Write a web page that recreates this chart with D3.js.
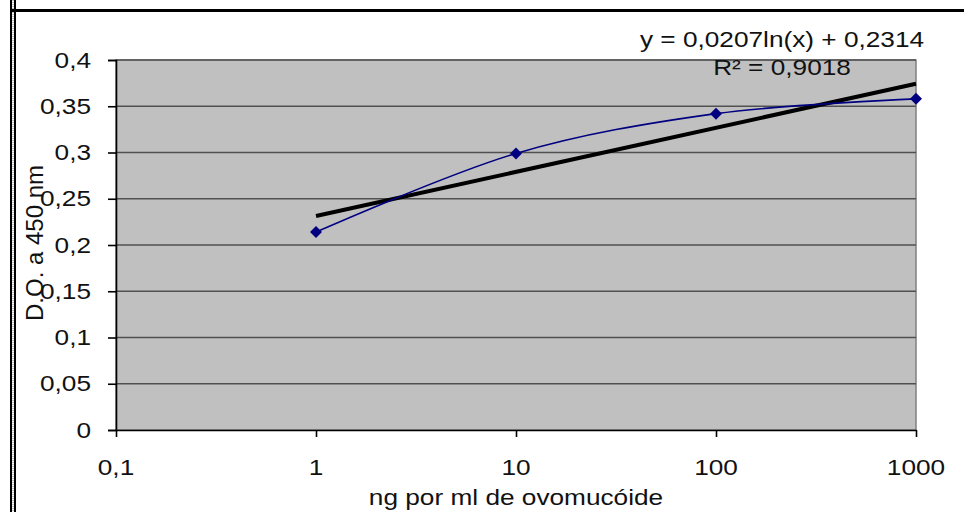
<!DOCTYPE html>
<html>
<head>
<meta charset="utf-8">
<script src="https://cdn.jsdelivr.net/npm/d3@7/dist/d3.min.js"></script>
<style>
  html, body { margin: 0; padding: 0; background: #fff; }
  svg { display: block; }
  text { font-family: "Liberation Sans", Arial, sans-serif; fill: #111; }
</style>
</head>
<body>
<svg id="chart" width="964" height="512"></svg>
<script>
// Concentration (ng/ml) vs optical density at 450 nm
const concentrations = [1, 10, 100, 1000];
const opticalDensity = [0.214, 0.299, 0.342, 0.358];

// Logarithmic trend line: y = a ln(x) + b
const trendA = 0.0207;
const trendB = 0.2314;
const trendRange = [1, 1000];
const equationLabel = "y = 0,0207ln(x) + 0,2314";
const r2Label = "R\u00b2 = 0,9018";

const xTicks = [0.1, 1, 10, 100, 1000];
const xTickLabels = ["0,1", "1", "10", "100", "1000"];
const yTicks = [0, 0.05, 0.1, 0.15, 0.2, 0.25, 0.3, 0.35, 0.4];
const yTickLabels = ["0", "0,05", "0,1", "0,15", "0,2", "0,25", "0,3", "0,35", "0,4"];

const xTitle = "ng por ml de ovomuc\u00f3ide";
const yTitle = "D.O. a 450 nm";

const svg = d3.select("#chart");
const plot = { left: 116, right: 916, top: 60, bottom: 430 };
const stretch = 1.22;   // horizontal text stretch
const fontSize = 21.5;

const x = d3.scaleLog().domain([0.1, 1000]).range([plot.left, plot.right]);
const y = d3.scaleLinear().domain([0, 0.4]).range([plot.bottom, plot.top]);

// Outer frame: double rule on the left, heavy rule on top
svg.append("rect").attr("x", 10).attr("y", 0).attr("width", 2).attr("height", 512).attr("fill", "#000");
svg.append("line").attr("x1", 13).attr("x2", 13).attr("y1", 0).attr("y2", 512)
  .attr("stroke", "#888").attr("stroke-width", 1).attr("stroke-dasharray", "1,1");
svg.append("rect").attr("x", 14).attr("y", 0).attr("width", 2).attr("height", 512).attr("fill", "#000");
svg.append("rect").attr("x", 10).attr("y", 9).attr("width", 954).attr("height", 3).attr("fill", "#000");

// Plot area
svg.append("rect")
  .attr("x", plot.left).attr("y", plot.top)
  .attr("width", plot.right - plot.left).attr("height", plot.bottom - plot.top)
  .attr("fill", "#c0c0c0").attr("stroke", "#808080").attr("stroke-width", 1.5);

// Horizontal gridlines
svg.append("g").selectAll("line").data(yTicks.filter(d => d > 0)).join("line")
  .attr("x1", plot.left).attr("x2", plot.right)
  .attr("y1", d => y(d)).attr("y2", d => y(d))
  .attr("stroke", "#505050").attr("stroke-width", 1.6);

// Axes (tick marks only; labels drawn separately)
svg.append("g").attr("transform", `translate(${plot.left},0)`)
  .call(d3.axisLeft(y).tickValues(yTicks).tickSize(8).tickFormat(""))
  .call(g => g.selectAll("line,path").attr("stroke", "#000").attr("stroke-width", 1.6));
svg.append("g").attr("transform", `translate(0,${plot.bottom})`)
  .call(d3.axisBottom(x).tickValues(xTicks).tickSize(7).tickSizeOuter(0).tickFormat(""))
  .call(g => g.selectAll("line,path").attr("stroke", "#000").attr("stroke-width", 1.6));

// Y tick labels
svg.append("g").selectAll("text").data(yTicks).join("text")
  .attr("transform", d => `translate(91,${y(d)}) scale(${stretch},1)`)
  .attr("dy", "0.36em").attr("text-anchor", "end").attr("font-size", fontSize)
  .text((d, i) => yTickLabels[i]);

// X tick labels
svg.append("g").selectAll("text").data(xTicks).join("text")
  .attr("transform", d => `translate(${x(d)},475) scale(${stretch},1)`)
  .attr("text-anchor", "middle").attr("font-size", fontSize)
  .text((d, i) => xTickLabels[i]);

// Axis titles
svg.append("text")
  .attr("transform", `translate(${(plot.left + plot.right) / 2},505) scale(${stretch},1)`)
  .attr("text-anchor", "middle").attr("font-size", fontSize)
  .text(xTitle);
svg.append("text")
  .attr("transform", `translate(43,243) rotate(-90)`)
  .attr("text-anchor", "middle").attr("font-size", 24)
  .text(yTitle);

// Trend line
const trendPts = trendRange.map(v => [x(v), y(trendA * Math.log(v) + trendB)]);
svg.append("path")
  .attr("d", d3.line()(trendPts))
  .attr("fill", "none").attr("stroke", "#000").attr("stroke-width", 4);

// Data series, smoothed
const pts = concentrations.map((c, i) => [x(c), y(opticalDensity[i])]);
svg.append("path")
  .attr("d", d3.line().curve(d3.curveCardinal.tension(0))(pts))
  .attr("fill", "none").attr("stroke", "#000080").attr("stroke-width", 1.6);

// Diamond markers
const r = 6;
svg.append("g").selectAll("path").data(pts).join("path")
  .attr("d", d => `M${d[0]},${d[1] - r}L${d[0] + r},${d[1]}L${d[0]},${d[1] + r}L${d[0] - r},${d[1]}Z`)
  .attr("fill", "#000080");

// Trend equation
svg.append("text")
  .attr("transform", `translate(782,47) scale(${stretch},1)`)
  .attr("text-anchor", "middle").attr("font-size", fontSize)
  .text(equationLabel);
svg.append("text")
  .attr("transform", `translate(782,75) scale(${stretch},1)`)
  .attr("text-anchor", "middle").attr("font-size", fontSize)
  .text(r2Label);
</script>
</body>
</html>
